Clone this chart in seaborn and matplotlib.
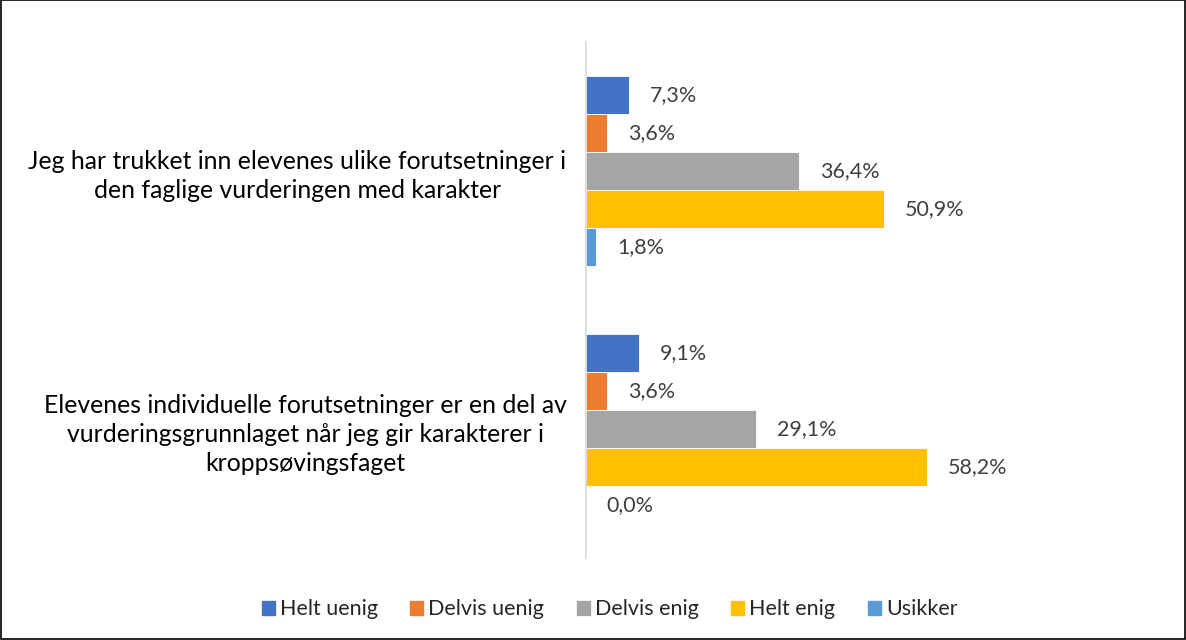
import pandas as pd
import numpy as np
import matplotlib.pyplot as plt
import seaborn as sns

statements = [
    "Jeg har trukket inn elevenes ulike forutsetninger i\nden faglige vurderingen med karakter",
    "Elevenes individuelle forutsetninger er en del av\nvurderingsgrunnlaget når jeg gir karakterer i\nkroppsøvingsfaget",
]
answers = ["Helt uenig", "Delvis uenig", "Delvis enig", "Helt enig", "Usikker"]
values_1 = [7.3, 3.6, 36.4, 50.9, 1.8]
values_2 = [9.1, 3.6, 29.1, 58.2, 0.0]
colors = ["#4472C4", "#ED7D31", "#A5A5A5", "#FFC000", "#5B9BD5"]

df = pd.DataFrame({
    "Statement": [statements[0]] * 5 + [statements[1]] * 5,
    "Answer": answers * 2,
    "Percent": values_1 + values_2,
})

sns.set_style("white")
plt.rcParams['font.family'] = ['Lato', 'DejaVu Sans']

fig = plt.figure(figsize=(11.86, 6.40), dpi=100)
ax = fig.add_axes([0.494, 0.128, 0.494, 0.806])

sns.barplot(data=df, y="Statement", x="Percent", hue="Answer", hue_order=answers,
            palette=colors, orient="h", width=0.737, gap=0, saturation=1,
            edgecolor="white", linewidth=0.6, ax=ax)

for cont in ax.containers:
    labels = [f"{v:.1f}%".replace(".", ",") for v in cont.datavalues]
    ax.bar_label(cont, labels=labels, padding=15, fontsize=15.5, color="#404040")

ax.set_xlim(0, 100)
ax.set_ylim(1.5, -0.5)
ax.set_xticks([])
ax.set_xlabel("")
ax.set_ylabel("")
ax.tick_params(axis="y", length=0, pad=14)
for lbl in ax.get_yticklabels():
    lbl.set_fontsize(17.8)
    lbl.set_multialignment("center")
    lbl.set_linespacing(1.32)
    lbl.set_color("#000000")

for s in ["top", "right", "bottom"]:
    ax.spines[s].set_visible(False)
ax.spines["left"].set_color("#D9D9D9")
ax.spines["left"].set_linewidth(1.2)

ax.legend_.remove()
handles = [plt.Rectangle((0, 0), 1, 1, color=c) for c in colors]
fig.legend(handles, answers, loc="center", bbox_to_anchor=(0.514, 0.048), ncol=5,
           frameon=False, fontsize=15.5, handlelength=0.6, handleheight=0.6,
           handletextpad=0.25, columnspacing=1.5)

fig.patches.append(plt.Rectangle((0.0005, 0.0008), 0.999, 0.9985, transform=fig.transFigure,
                                 fill=False, edgecolor="black", linewidth=1.2))

plt.savefig("out.png", dpi=100)
